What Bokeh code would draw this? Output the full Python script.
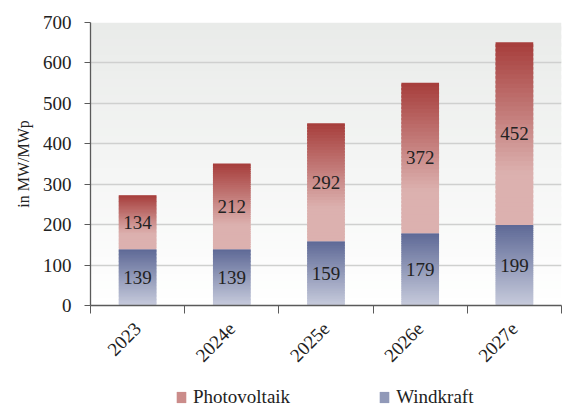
from bokeh.plotting import figure
from bokeh.layouts import column
from bokeh.models import (FixedTicker, Range1d, BoxAnnotation, Legend, LegendItem,
                          ColumnDataSource, LabelSet)
from bokeh.embed import file_html
from bokeh.resources import INLINE

categories = ["2023", "2024e", "2025e", "2026e", "2027e"]
windkraft = [139, 139, 159, 179, 199]
photovoltaik = [134, 212, 292, 372, 452]
y_ticks = [0, 100, 200, 300, 400, 500, 600, 700]
series_names = ["Photovoltaik", "Windkraft"]
y_label = "in MW/MWp"

FONT = "Liberation Serif"
TXT = "#222222"
AX = "#5a5a5a"

PV_DARK, PV_LIGHT = "#a63d3b", "#dcb1af"
WK_DARK, WK_LIGHT = "#5e6996", "#c7cbdc"
BG_TOP, BG_BOT = "#e9ebe9", "#ffffff"


def hx(c):
    c = c.lstrip("#")
    return [int(c[i:i + 2], 16) for i in (0, 2, 4)]


def lerp(c1, c2, s):
    a, b = hx(c1), hx(c2)
    return "#%02x%02x%02x" % tuple(int(round(a[j] + (b[j] - a[j]) * s)) for j in range(3))


W_FIG = 563
p = figure(width=W_FIG, height=375, x_range=Range1d(-0.5, len(categories) - 0.5),
           y_range=Range1d(0, 700), output_backend="svg", toolbar_location=None,
           min_border_left=90, min_border_right=2, min_border_top=22, min_border_bottom=70)
p.outline_line_color = None
p.background_fill_color = "white"
p.border_fill_color = "white"

# background gradient
NB = 35
for k in range(NB):
    y0 = 700 * k / NB
    y1 = min(700, 700 * (k + 1) / NB + 700 / NB * 0.5)
    col = lerp(BG_BOT, BG_TOP, (k + 0.5) / NB)
    p.add_layout(BoxAnnotation(bottom=y0, top=y1, fill_color=col, fill_alpha=1,
                               line_color=None, level="image"))

N = 40
W = 0.2


def strips(bottoms, heights, dark, light, ramp):
    d = dict(left=[], right=[], bottom=[], top=[], color=[])
    for i, (b, h) in enumerate(zip(bottoms, heights)):
        t = b + h
        for k in range(N):
            y0 = b + h * k / N
            y1 = min(t, b + h * (k + 1) / N + h / N * 0.6)
            from_top = 1 - (k + 0.5) / N
            s = min(1.0, from_top / ramp)
            d["left"].append(i - W)
            d["right"].append(i + W)
            d["bottom"].append(y0)
            d["top"].append(y1)
            d["color"].append(lerp(dark, light, s))
    return ColumnDataSource(d)


wk_src = strips([0] * len(windkraft), windkraft, WK_DARK, WK_LIGHT, 1.0)
pv_src = strips(windkraft, photovoltaik, PV_DARK, PV_LIGHT, 0.72)

p.quad(left="left", right="right", bottom="bottom", top="top", source=wk_src,
       fill_color="color", line_color=None)
p.quad(left="left", right="right", bottom="bottom", top="top", source=pv_src,
       fill_color="color", line_color=None)

# value labels
lab = dict(x=[], y=[], text=[])
for i in range(len(categories)):
    lab["x"].append(i)
    lab["y"].append(windkraft[i] / 2)
    lab["text"].append(str(windkraft[i]))
    lab["x"].append(i)
    lab["y"].append(windkraft[i] + photovoltaik[i] / 2)
    lab["text"].append(str(photovoltaik[i]))
p.add_layout(LabelSet(x="x", y="y", text="text", source=ColumnDataSource(lab),
                      text_align="center", text_baseline="middle",
                      text_font=FONT, text_font_size="19px", text_color=TXT))

# grid
p.xgrid.visible = False
p.ygrid.ticker = FixedTicker(ticks=y_ticks[1:-1])
p.ygrid.grid_line_color = "#cfd0cf"
p.ygrid.grid_line_width = 1.5

# y axis
ya = p.yaxis[0]
ya.ticker = FixedTicker(ticks=y_ticks)
ya.axis_line_color = AX
ya.axis_line_width = 1.3
ya.major_tick_line_color = AX
ya.major_tick_out = 6
ya.major_tick_in = 0
ya.minor_tick_line_color = None
ya.major_label_text_font = FONT
ya.major_label_text_font_size = "19px"
ya.major_label_text_color = TXT
ya.major_label_standoff = 13
ya.axis_label = y_label
ya.axis_label_text_font = FONT
ya.axis_label_text_font_size = "16px"
ya.axis_label_text_font_style = "normal"
ya.axis_label_text_color = TXT
ya.axis_label_standoff = 8

# x axis
xa = p.xaxis[0]
xa.ticker = FixedTicker(ticks=list(range(len(categories))),
                        minor_ticks=[i - 0.5 for i in range(len(categories) + 1)])
xa.major_label_overrides = {i: c for i, c in enumerate(categories)}
xa.major_label_orientation = 0.785
xa.major_tick_line_color = None
xa.major_tick_out = 0
xa.major_tick_in = 0
xa.minor_tick_line_color = AX
xa.minor_tick_out = 8
xa.minor_tick_in = 0
xa.axis_line_color = AX
xa.axis_line_width = 1.3
xa.major_label_text_font = FONT
xa.major_label_text_font_size = "19px"
xa.major_label_text_color = TXT
xa.major_label_standoff = 12

# legend strip (separate figure so the legend is never clipped);
# the bar sources are reused there but lie outside its visible range
p2 = figure(width=W_FIG, height=34, x_range=Range1d(100, 101), y_range=Range1d(0, 1),
            output_backend="svg", toolbar_location=None,
            min_border_left=0, min_border_right=0, min_border_top=0, min_border_bottom=0)
p2.axis.visible = False
p2.grid.visible = False
p2.outline_line_color = None
r_pv = p2.quad(left="left", right="right", bottom="bottom", top="top", source=pv_src,
               fill_color="color", line_color=None)
r_wk = p2.quad(left="left", right="right", bottom="bottom", top="top", source=wk_src,
               fill_color="color", line_color=None)
legend = Legend(items=[
    LegendItem(label=series_names[0], renderers=[r_pv], index=N // 2),
    LegendItem(label=series_names[1], renderers=[r_wk], index=N // 2),
], orientation="horizontal", location=(85, 1))
legend.label_text_font = FONT
legend.label_text_font_size = "19px"
legend.label_text_color = TXT
legend.glyph_width = 12
legend.glyph_height = 14
legend.label_standoff = 6
legend.spacing = 88
legend.border_line_color = None
legend.background_fill_alpha = 0
legend.margin = 0
legend.padding = 4
p2.add_layout(legend, "center")

layout = column(p, p2, spacing=0)
open("out.html", "w").write(file_html(layout, INLINE))
